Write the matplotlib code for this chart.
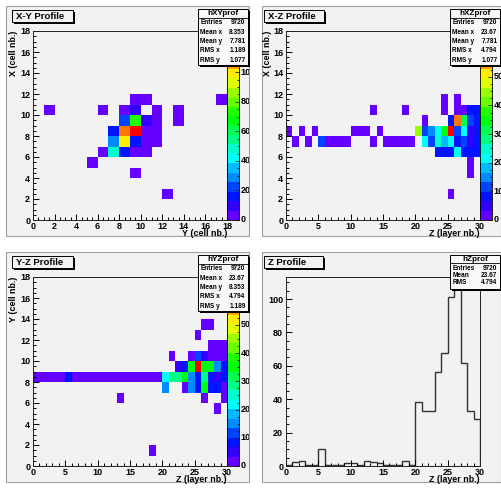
import colorsys
import numpy as np
import matplotlib
matplotlib.use("Agg")
import matplotlib.pyplot as plt
from matplotlib.colors import ListedColormap, BoundaryNorm
from matplotlib.patches import Rectangle
from matplotlib.ticker import MultipleLocator
from matplotlib.transforms import Bbox, TransformedBbox

# ---------------- data ----------------
# X-Y profile: column = Y cell, row = X cell
xy_col = [1, 6, 17, 9, 10, 8, 9, 11, 13, 13, 8, 9, 10, 11, 7, 8, 9, 10, 11,
          7, 8, 9, 10, 11, 6, 7, 8, 9, 10, 5, 9, 12]
xy_row = [10, 10, 11, 11, 11, 10, 10, 10, 10, 9, 9, 9, 9, 9, 8, 8, 8, 8, 8,
          7, 7, 7, 7, 7, 6, 6, 6, 6, 6, 5, 4, 2]
xy_val = [3, 3, 3, 3, 3, 3, 9, 3, 3, 3, 22, 73, 9, 3, 15, 112, 125, 3, 3,
          29, 100, 15, 3, 3, 3, 48, 15, 3, 3, 3, 3, 3]

# X-Z profile: column = Z layer, row = X cell
xz_col = [0, 2, 4, 10, 11, 12, 14,
          1, 3, 5, 6, 7, 8, 9, 13, 15, 16, 17, 18, 19,
          13, 18, 24, 26,
          24, 26, 27, 28, 29,
          21, 25, 26, 27, 28, 29,
          20, 21, 22, 23, 24, 25, 26, 27, 28, 29,
          21, 22, 23, 24, 25, 26, 27, 28, 29,
          23, 24, 25, 26, 27, 28, 29,
          28, 28, 25]
xz_row = [8, 8, 8, 8, 8, 8, 8,
          7, 7, 7, 7, 7, 7, 7, 7, 7, 7, 7, 7, 7,
          10, 10, 11, 11,
          10, 10, 10, 10, 10,
          9, 9, 9, 9, 9, 9,
          8, 8, 8, 8, 8, 8, 8, 8, 8, 8,
          7, 7, 7, 7, 7, 7, 7, 7, 7,
          6, 6, 6, 6, 6, 6, 6,
          5, 4, 2]
xz_val = [1.5, 1.5, 1.5, 1.5, 1.5, 1.5, 1.5,
          1.5, 1.5, 11, 1.5, 1.5, 1.5, 1.5, 1.5, 1.5, 1.5, 1.5, 1.5, 1.5,
          1.5, 1.5, 1.5, 1.5,
          1.5, 1.5, 1.5, 8, 8,
          1.5, 8, 58, 30, 10, 8,
          43, 10, 16, 21, 36, 64, 10, 22, 5, 8,
          22, 10, 24, 17, 22, 8, 10, 4, 8,
          8, 8, 8, 22, 9, 8, 8,
          1.5, 1.5, 1.5]

# Y-Z profile: column = Z layer, row = Y cell
yz_col = list(range(0, 30)) + [20, 23, 24, 25, 26, 27, 28, 29,
                               22, 23, 24, 25, 26, 27, 28, 29,
                               21, 24, 25, 26, 27, 28, 29,
                               27, 28, 29, 25, 26, 27, 13, 26, 29, 28, 18]
yz_row = [8] * 30 + [7] * 8 + [9] * 8 + [10] * 7 + [11, 11, 11, 12, 13, 13,
                                                    6, 6, 6, 5, 1]
yz_val = ([1.5, 1.5, 1.5, 1.5, 1.5, 10, 1.5, 1.5, 1.5, 1.5, 1.5, 1.5, 1.5, 1.5, 1.5,
           1.5, 1.5, 1.5, 1.5, 1.5, 22, 28, 28, 36, 16, 10, 27, 9, 5, 8]
          + [16, 2, 16, 9, 34, 8, 8, 2]
          + [5, 9, 36, 65, 36, 34, 16, 8]
          + [2, 2, 12, 5, 2, 2, 2]
          + [2, 2, 2, 2, 2, 2, 2, 2, 2, 2, 2])

# Z profile histogram (30 layers)
z_vals = [0.6, 2.2, 3.2, 0.8, 0.8, 10, 0.8, 0.8, 0.8, 1.6,
          1.6, 0.8, 3.2, 2.2, 1.6, 0.8, 0.8, 0.8, 3.2, 0.8,
          38.5, 33, 33, 56.4, 67.5, 101.5, 108, 61.5, 33, 28]

# ---------------- style ----------------
W, H = 501, 492
fig = plt.figure(figsize=(W / 100, H / 100), dpi=100)
fig.patch.set_facecolor("white")
FONT = "Liberation Sans"
PADC = "#f2f2f2"
TICK_FS = 6.5
AXT_FS = 6.4

cols = []
for k in range(20):
    idx = int((k + 0.99) * 50 / 20)
    hue = 280 - (idx + 1) * 5.6
    cols.append(colorsys.hsv_to_rgb(hue / 360.0, 1, 1))
cmap = ListedColormap(cols)


def fbox(l, t, r, b):
    return [l / W, 1 - b / H, (r - l) / W, (b - t) / H]


def frect(l, t, r, b, **kw):
    p = Rectangle((l / W, 1 - b / H), (r - l) / W, (b - t) / H,
                  transform=fig.transFigure, **kw)
    fig.patches.append(p)
    return p


def ftext(x, y, s, **kw):
    kw.setdefault("family", FONT)
    kw.setdefault("weight", "bold")
    return fig.text(x / W, 1 - y / H, s, **kw)


# pads
pads = [(6, 6, 249, 236), (262, 6, 501, 236), (6, 252, 249, 482), (262, 252, 501, 482)]
for l, t, r, b in pads:
    frect(l, t, r, b, facecolor=PADC, edgecolor="#a0a0a0", lw=0.8, zorder=-2)


def style_axes(ax, xmax, ymax, xmaj, xmin, ymaj, ymin):
    ax.set_facecolor(PADC)
    ax.set_xlim(0, xmax)
    ax.set_ylim(0, ymax)
    ax.xaxis.set_major_locator(MultipleLocator(xmaj))
    ax.xaxis.set_minor_locator(MultipleLocator(xmin))
    ax.yaxis.set_major_locator(MultipleLocator(ymaj))
    ax.yaxis.set_minor_locator(MultipleLocator(ymin))
    ax.tick_params(which="both", direction="in", top=False, right=False,
                   labelsize=TICK_FS, width=0.7)
    ax.tick_params(which="major", length=4)
    ax.tick_params(which="minor", length=2)
    ax.tick_params(axis="x", pad=1.2)
    ax.tick_params(axis="y", pad=2)
    for lab in ax.get_xticklabels() + ax.get_yticklabels():
        lab.set_family(FONT)
        lab.set_weight("bold")
    for sp in ax.spines.values():
        sp.set_linewidth(0.7)
        sp.set_color("#222222")


def heat(box, cbox, ncols, cols_, rows_, vals_, zmax, cticks, clip_right):
    ax = fig.add_axes(fbox(*box))
    grid = np.full((18, ncols), np.nan)
    for c, r, v in zip(cols_, rows_, vals_):
        grid[r, c] = v
    norm = BoundaryNorm(np.linspace(0, zmax, 21), 20)
    m = ax.pcolormesh(np.arange(ncols + 1), np.arange(19), grid, cmap=cmap, norm=norm)
    if ncols == 18:
        style_axes(ax, 18, 18, 2, 0.5, 2, 0.5)
    else:
        style_axes(ax, 30, 18, 5, 1, 2, 0.5)
    cax = fig.add_axes(fbox(*cbox))
    cb = fig.colorbar(m, cax=cax)
    cb.outline.set_linewidth(0.6)
    cb.set_ticks(cticks)
    cax.yaxis.set_minor_locator(MultipleLocator(cticks[1] / 4))
    cax.tick_params(which="both", direction="in", right=True, left=False,
                    labelright=False, width=0.6, color="#222222")
    cax.tick_params(which="major", length=3)
    cax.tick_params(which="minor", length=1.5)
    l, t, r, b = cbox
    clip = TransformedBbox(Bbox.from_extents(0, 0, clip_right / W, 1), fig.transFigure)
    for v in cticks:
        y = b - v / zmax * (b - t)
        tx = ftext(r + 1.5, y, f"{v:g}", fontsize=TICK_FS, va="center", ha="left")
        tx.set_clip_box(clip)
        tx.set_clip_on(True)
    return ax


def stats(l, t, r, b, title, rows, sep, ys, tsize=5.9, rsize=4.7):
    frect(l + 2, t + 2, r + 2, b + 2, facecolor="black", zorder=10)
    frect(l, t, r, b, facecolor="#f8f8f8", edgecolor="black", lw=0.7, zorder=11)
    ln = plt.Line2D([l / W, r / W], [1 - sep / H, 1 - sep / H], transform=fig.transFigure,
                    color="black", lw=0.6, zorder=12)
    fig.lines.append(ln)
    ftext((l + r) / 2, (t + sep) / 2 + 0.3, title, fontsize=tsize,
          ha="center", va="center", zorder=13)
    for (lab, val), y in zip(rows, ys):
        ftext(l + 2.5, y, lab, fontsize=rsize, ha="left", va="center", zorder=13)
        ftext(r - 2.5, y, val, fontsize=rsize, ha="right", va="center", zorder=13)


def title_box(l, t, r, b, s):
    frect(l + 2, t + 2, r + 2, b + 2, facecolor="black", zorder=10)
    frect(l, t, r, b, facecolor=PADC, edgecolor="black", lw=0.7, zorder=11)
    ftext(l + 4, (t + b) / 2 + 0.5, s, fontsize=6.8, ha="left", va="center", zorder=13)


# ---------------- panels ----------------
heat((33, 31, 227, 220), (227, 31, 239, 220), 18, xy_col, xy_row, xy_val, 128,
     [0, 20, 40, 60, 80, 100], 249)
heat((286, 31, 480, 220), (480, 31, 492, 220), 30, xz_col, xz_row, xz_val, 66,
     [0, 10, 20, 30, 40, 50], 501)
heat((33, 277, 227, 466), (227, 277, 239, 466), 30, yz_col, yz_row, yz_val, 67,
     [0, 10, 20, 30, 40, 50], 249)

axz = fig.add_axes(fbox(286, 277, 480, 466))
axz.stairs(z_vals, np.arange(31), color="#333333", lw=1.0)
style_axes(axz, 30, 113.2, 5, 1, 20, 5)

# axis titles
ftext(227, 234, "Y (cell nb.)", fontsize=AXT_FS, ha="right", va="center")
ftext(480, 234, "Z (layer nb.)", fontsize=AXT_FS, ha="right", va="center")
ftext(227, 480, "Z (layer nb.)", fontsize=AXT_FS, ha="right", va="center")
ftext(480, 480, "Z (layer nb.)", fontsize=AXT_FS, ha="right", va="center")
ftext(14, 31, "X (cell nb.)", fontsize=AXT_FS, rotation=90, ha="center", va="top")
ftext(267.5, 31, "X (cell nb.)", fontsize=AXT_FS, rotation=90, ha="center", va="top")
ftext(14, 277, "Y (cell nb.)", fontsize=AXT_FS, rotation=90, ha="center", va="top")

# title boxes
title_box(12, 10, 73, 22, "X-Y Profile")
title_box(264, 10, 324, 22, "X-Z Profile")
title_box(12, 256, 73, 268, "Y-Z Profile")
title_box(264, 256, 323, 268, "Z Profile")

# stats boxes
ys5 = [22.3, 32, 41.7, 51, 60.7]
stats(198, 9, 248, 65, "hXYprof",
      [("Entries", "9720"), ("Mean x", "8.353"), ("Mean y", "7.781"),
       ("RMS x", "1.189"), ("RMS y", "1.077")], 18.3, ys5)
stats(450, 9, 500, 65, "hXZprof",
      [("Entries", "9720"), ("Mean x", "23.67"), ("Mean y", "7.781"),
       ("RMS x", "4.794"), ("RMS y", "1.077")], 18.3, ys5)
stats(198, 255, 248, 311, "hYZprof",
      [("Entries", "9720"), ("Mean x", "23.67"), ("Mean y", "8.353"),
       ("RMS x", "4.794"), ("RMS y", "1.189")], 264.3, [y + 246 for y in ys5])
stats(450, 255, 500, 289, "hZprof",
      [("Entries", "9720"), ("Mean", "23.67"), ("RMS", "4.794")], 263.3,
      [268.7, 275.3, 282])

fig.savefig("out.png", dpi=100, facecolor=fig.get_facecolor())
